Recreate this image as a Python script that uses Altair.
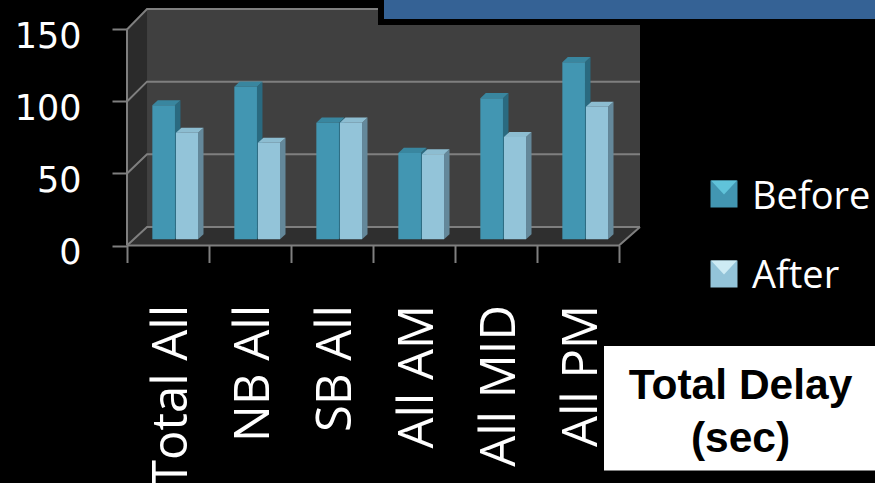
import altair as alt
import pandas as pd

# Categories and measured delays
categories = ["Total All", "NB All", "SB All", "All AM", "All MID", "All PM"]
before = [93, 106, 81, 60, 98, 123]
after = [74, 67, 81, 59, 71, 92]
y_ticks = [0, 50, 100, 150]

# Scale extents and pseudo-3D depth, in data units
X_MAX = 6.256
Y_MAX = 164.2
WALL_DX = 0.244
WALL_DY = 12.85
WALL_SLOPE = 1.009
BAR_BASE = 4.3
BAR_DX = 0.067
BAR_DY = 3.5
BAR_SLOTS = {"Before": (0.309, 0.585), "After": (0.597, 0.866)}
FACE_COLORS = {
    "Before": {"front": "#4296b2", "side": "#2a6a80", "top": "#39869f"},
    "After": {"front": "#93c4d9", "side": "#64889a", "top": "#8dbdd1"},
}
GRID = "#7f7f7f"


def back(v):
    return WALL_DY + WALL_SLOPE * v


fronts, faces = [], []
for series, values in (("Before", before), ("After", after)):
    left, right = BAR_SLOTS[series]
    for i, v in enumerate(values):
        top = v + BAR_BASE
        l, r = i + left, i + right
        fronts.append({"series": series, "x": l, "x2": r, "y": BAR_BASE, "y2": top})
        bar = f"{series}-{i}"
        colors = FACE_COLORS[series]
        for px, py, py2 in (
            (r, BAR_BASE, top),
            (r + BAR_DX, BAR_BASE + BAR_DY, top + BAR_DY),
        ):
            faces.append({"series": series, "face": bar + "-s", "color": colors["side"],
                          "x": px, "y": py, "y2": py2})
        for px, py, py2 in (
            (l, top, top),
            (l + BAR_DX, top, top + BAR_DY),
            (r, top, top + BAR_DY),
            (r + BAR_DX, top + BAR_DY, top + BAR_DY),
        ):
            faces.append({"series": series, "face": bar + "-t", "color": colors["top"],
                          "x": px, "y": py, "y2": py2})
fronts = pd.DataFrame(fronts)
faces = pd.DataFrame(faces)

x_scale = alt.Scale(domain=[0, X_MAX], nice=False, zero=False)
y_scale = alt.Scale(domain=[0, Y_MAX], nice=False, zero=False)
series_scale = alt.Scale(
    domain=["Before", "After"],
    range=[FACE_COLORS["Before"]["front"], FACE_COLORS["After"]["front"]],
)

axis_style = dict(
    domain=False, grid=False, tickColor=GRID, tickWidth=2, labelColor="white",
    labelOverlap=False, labelBound=False, labelFlush=False, labelLimit=400, title=None,
)
names_expr = "[" + ",".join(f"'{c}'" for c in categories) + ",''][datum.value]"
x_axis = alt.Axis(
    values=list(range(7)), labelExpr=names_expr, labelAngle=-90, labelAlign="right",
    labelBaseline="middle", labelOffset=44, labelFont="Open Sans", labelFontSize=49,
    labelPadding=42, tickSize=17, **axis_style)
y_axis = alt.Axis(
    values=y_ticks, labelFont="DejaVu Sans", labelFontSize=35, labelPadding=31,
    tickSize=15, labelOffset=7, **axis_style)
X = alt.X("x:Q", scale=x_scale, axis=x_axis)
Y = alt.Y("y:Q", scale=y_scale, axis=y_axis)

# Walls and floor of the box
walls = pd.DataFrame([
    {"face": "left", "color": "#2b2b2b", "x": 0, "y": 0, "y2": 150},
    {"face": "left", "color": "#2b2b2b", "x": WALL_DX, "y": back(0), "y2": back(150)},
    {"face": "back", "color": "#404040", "x": WALL_DX, "y": back(0), "y2": back(150)},
    {"face": "back", "color": "#404040", "x": X_MAX, "y": back(0), "y2": back(150)},
    {"face": "floor", "color": "#2f2f2f", "x": 0, "y": 0, "y2": 0},
    {"face": "floor", "color": "#2f2f2f", "x": WALL_DX, "y": 0, "y2": back(0)},
    {"face": "floor", "color": "#2f2f2f", "x": 6, "y": 0, "y2": back(0)},
    {"face": "floor", "color": "#2f2f2f", "x": X_MAX, "y": back(0), "y2": back(0)},
])
wall_layer = alt.Chart(walls).mark_area(opacity=1).encode(
    x=X, y=Y, y2="y2:Q", fill=alt.Fill("color:N", scale=None, legend=None),
    detail="face:N",
)

# Gridlines: back wall, side wall diagonals and the floor edges
grid_rows = []
for v in y_ticks:
    grid_rows += [
        {"line": f"g{v}", "x": 0, "y": v},
        {"line": f"g{v}", "x": WALL_DX, "y": back(v)},
        {"line": f"g{v}", "x": X_MAX, "y": back(v)},
    ]
grid_rows += [
    {"line": "left", "x": 0, "y": 0},
    {"line": "left", "x": 0.0001, "y": 150},
    {"line": "front", "x": 0, "y": 0},
    {"line": "front", "x": 6, "y": 0},
    {"line": "front", "x": X_MAX, "y": back(0)},
]
grid_layer = alt.Chart(pd.DataFrame(grid_rows)).mark_line(color=GRID, strokeWidth=2).encode(
    x=X, y=Y, detail="line:N",
)


def face_layer(series):
    return alt.Chart(faces[faces.series == series]).mark_area(opacity=1).encode(
        x=X, y=Y, y2="y2:Q", fill=alt.Fill("color:N", scale=None, legend=None),
        detail="face:N",
    )


def front_layer(series):
    return alt.Chart(fronts[fronts.series == series]).mark_rect().encode(
        x=X, x2="x2:Q", y=Y, y2="y2:Q",
        color=alt.Color("series:N", sort=["Before", "After"], scale=series_scale,
                        legend=alt.Legend(
            orient="none", legendX=580, legendY=170, title=None, symbolType="square",
            symbolSize=729, symbolStrokeWidth=0, symbolOpacity=0, labelColor="white",
            labelFont="Open Sans", labelFontSize=38, labelOffset=7, rowPadding=41,
            labelLimit=300,
        )),
    )


# Bevelled swatches sitting under the legend's labels
one_row = pd.DataFrame({"a": [0]})
BEVEL = "M -1 -0.54 L 1 -0.54 L 0 0.54 Z"
swatches = []
for series, shade, row in (("Before", "#60c3da", 185), ("After", "#cdebf4", 265)):
    swatches.append(
        alt.Chart(pd.DataFrame({"series": [series]})).mark_point(
            shape="square", size=729, filled=True, opacity=1,
        ).encode(
            x=alt.value(597), y=alt.value(row),
            color=alt.Color("series:N", sort=["Before", "After"], scale=series_scale,
                            legend=None),
        )
    )
    swatches.append(
        alt.Chart(one_row).mark_point(
            shape=BEVEL, size=676, filled=True, opacity=1, color=shade,
        ).encode(x=alt.value(597), y=alt.value(row - 6.5))
    )

# Heading band at the top and the caption box
header_back = alt.Chart(one_row).mark_rect(color="black").encode(
    x=alt.value(251), x2=alt.value(748), y=alt.value(-9), y2=alt.value(16),
)
header = alt.Chart(one_row).mark_rect(color="#356295").encode(
    x=alt.value(257), x2=alt.value(748), y=alt.value(-9), y2=alt.value(10),
)
caption_box = alt.Chart(one_row).mark_rect(color="white").encode(
    x=alt.value(477), x2=alt.value(748), y=alt.value(337), y2=alt.value(461.5),
)
caption_marks = [
    alt.Chart(pd.DataFrame({"label": [text]})).mark_text(
        font="Liberation Sans", fontWeight="bold", fontSize=42.5, color="black",
        baseline="middle",
    ).encode(x=alt.value(613.5), y=alt.value(row), text="label:N")
    for text, row in (("Total Delay", 377), ("(sec)", 430))
]

chart = alt.layer(
    wall_layer, grid_layer,
    face_layer("Before"), front_layer("Before"),
    face_layer("After"), front_layer("After"),
    header_back, header, caption_box, *caption_marks, *swatches,
).properties(
    width=513, height=236.5, background="black",
    padding={"left": 127, "top": 9, "right": 235, "bottom": 237.5},
    autosize=alt.AutoSizeParams(type="none"),
).configure_view(stroke=None)

chart.save("out.html", embed_options={"renderer": "svg", "actions": False})
